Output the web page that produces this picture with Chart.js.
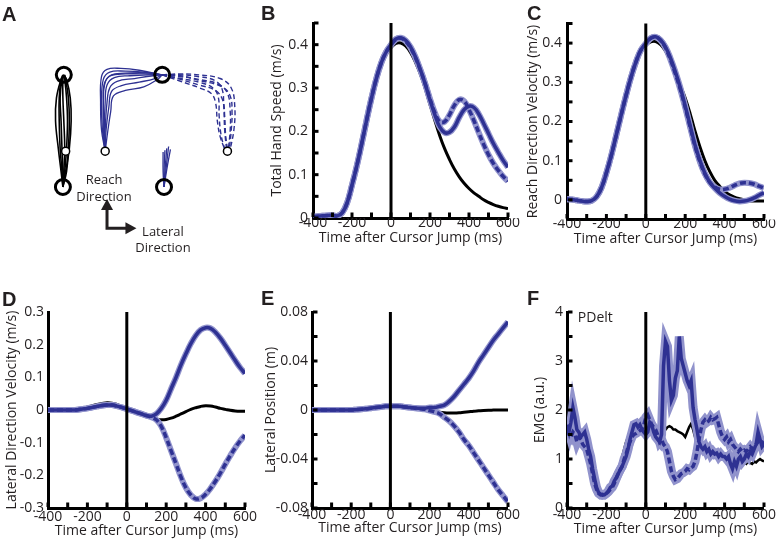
<!DOCTYPE html>
<html><head><meta charset="utf-8">
<script src="https://cdn.jsdelivr.net/npm/chart.js@4.4.1/dist/chart.umd.min.js"></script>
<style>
body{margin:0;background:#fff;width:776px;height:543px;position:relative;overflow:hidden;font-family:'Open Sans',sans-serif;color:#231f20;}
canvas{position:absolute;}
.lt{position:absolute;font-family:'Liberation Sans',Arial,sans-serif;font-weight:bold;font-size:20px;line-height:20px;color:#231f20;}
.tx{position:absolute;font-size:13px;text-align:center;color:#231f20;white-space:nowrap;}
</style></head><body>
<canvas id="cA" width="260" height="260" style="left:0;top:0"></canvas>
<canvas id="cB" width="260" height="260" style="left:260px;top:0"></canvas>
<canvas id="cC" width="260" height="260" style="left:516px;top:0"></canvas>
<canvas id="cD" width="260" height="273" style="left:0;top:270px"></canvas>
<canvas id="cE" width="260" height="273" style="left:260px;top:270px"></canvas>
<canvas id="cF" width="260" height="273" style="left:516px;top:270px"></canvas>
<div class="lt" style="left:2px;top:4px">A</div>
<div class="lt" style="left:261px;top:3px">B</div>
<div class="lt" style="left:527px;top:3px">C</div>
<div class="lt" style="left:2px;top:289px">D</div>
<div class="lt" style="left:261px;top:288px">E</div>
<div class="lt" style="left:527px;top:288px">F</div>
<div class="tx" style="left:64px;top:171px;width:80px;line-height:17px">Reach<br>Direction</div>
<div class="tx" style="left:123px;top:223px;width:80px;line-height:16px">Lateral<br>Direction</div>
<script>
// ---------- time bases ----------
const tBE = [-400,-375,-350,-325,-300,-275,-250,-225,-200,-175,-150,-125,-100,-75,-50,-25,0,25,50,75,100,125,150,175,200,225,250,275,300,325,350,375,400,425,450,475,500,525,550,575,600];
const tEMG = [-400,-390,-380,-370,-360,-350,-340,-330,-320,-310,
 -300,-290,-280,-270,-260,-250,-240,-230,-220,-210,
 -200,-190,-180,-170,-160,-150,-140,-130,-120,-110,
 -100,-90,-80,-70,-60,-50,-40,-30,-20,-10,
 0,10,20,30,40,50,60,70,80,90,
 100,110,120,130,140,150,160,170,180,190,
 200,210,220,230,240,250,260,270,280,290,
 300,310,320,330,340,350,360,370,380,390,
 400,410,420,430,440,450,460,470,480,490,
 500,510,520,530,540,550,560,570,580,590,
 600];
const xTickLabels = [-400,-200,0,200,400,600];

// ---------- B: total hand speed (m/s) ----------
const speedBlack = [0.003,0.003,0.003,0.003,0.003,0.004,0.012,0.035,
 0.075,0.12,0.17,0.225,0.275,0.32,0.355,0.378,
 0.393,0.403,0.404,0.397,0.382,0.36,0.333,0.3,
 0.262,0.225,0.19,0.16,0.135,0.113,0.095,0.08,
 0.068,0.058,0.05,0.042,0.036,0.031,0.027,0.024,
 0.022];
const speedSolid = [0.003,0.004,0.005,0.006,0.006,0.005,0.012,0.035,
 0.076,0.121,0.172,0.226,0.277,0.322,0.358,0.383,
 0.4,0.413,0.416,0.41,0.395,0.372,0.343,0.31,
 0.272,0.238,0.21,0.197,0.198,0.21,0.232,0.25,
 0.258,0.255,0.24,0.218,0.195,0.172,0.152,0.133,
 0.117];
const speedDashed = [0.003,0.004,0.005,0.006,0.006,0.005,0.012,0.035,
 0.076,0.121,0.172,0.226,0.277,0.322,0.358,0.383,
 0.399,0.412,0.415,0.408,0.393,0.37,0.342,0.31,
 0.275,0.243,0.222,0.222,0.238,0.26,0.273,0.27,
 0.25,0.225,0.197,0.17,0.146,0.126,0.11,0.096,
 0.085];

// ---------- C: reach direction velocity (m/s) ----------
const reachBlack = [0,0,-0.002,-0.004,-0.005,-0.003,0.007,0.03,
 0.068,0.113,0.163,0.215,0.265,0.31,0.348,0.377,
 0.394,0.403,0.404,0.396,0.38,0.355,0.325,0.292,
 0.26,0.22,0.175,0.135,0.1,0.072,0.05,0.035,
 0.022,0.013,0.007,0.003,0,-0.002,-0.003,-0.003,
 -0.003];
const reachSolid = [0.002,0.001,-0.001,-0.003,-0.004,-0.002,0.008,0.031,
 0.069,0.114,0.165,0.217,0.267,0.313,0.352,0.382,
 0.399,0.413,0.416,0.408,0.39,0.362,0.327,0.287,
 0.24,0.19,0.14,0.1,0.068,0.045,0.03,0.018,
 0.009,0.002,-0.002,-0.004,-0.003,0,0.005,0.012,
 0.018];
const reachDashed = [0.002,0.001,-0.001,-0.003,-0.004,-0.002,0.008,0.031,
 0.069,0.114,0.165,0.217,0.267,0.313,0.352,0.382,
 0.398,0.412,0.415,0.407,0.388,0.358,0.322,0.282,
 0.236,0.186,0.137,0.097,0.066,0.045,0.033,0.027,
 0.027,0.031,0.037,0.042,0.044,0.043,0.04,0.035,
 0.03];

// ---------- D: lateral direction velocity (m/s) ----------
const latVelBlack = [0,0,0,0,0,0.001,0.002,0.005,
 0.009,0.013,0.017,0.02,0.022,0.021,0.017,0.01,
 0.004,-0.003,-0.009,-0.015,-0.02,-0.025,-0.028,-0.03,
 -0.029,-0.025,-0.019,-0.012,-0.005,0.002,0.007,0.011,
 0.013,0.012,0.009,0.005,0.002,-0.001,-0.003,-0.004,
 -0.004];
const latVelSolid = [0,0,0,0,0,0,0.001,0.003,
 0.005,0.008,0.011,0.014,0.015,0.015,0.012,0.008,
 0.003,-0.002,-0.007,-0.012,-0.017,-0.019,-0.012,0.005,
 0.03,0.065,0.1,0.138,0.172,0.203,0.228,0.245,
 0.252,0.25,0.238,0.22,0.198,0.175,0.152,0.13,
 0.112];
const latVelDashed = [0,0,0,0,0,0,0.001,0.003,
 0.005,0.008,0.011,0.014,0.015,0.015,0.012,0.008,
 0.003,-0.002,-0.007,-0.012,-0.017,-0.022,-0.03,-0.05,
 -0.085,-0.125,-0.165,-0.205,-0.238,-0.26,-0.272,-0.27,
 -0.258,-0.24,-0.218,-0.193,-0.166,-0.14,-0.116,-0.095,
 -0.077];

// ---------- E: lateral position (m) ----------
const latPosBlack = [0,0,0,0,0,0,0,0,
 0,0.0003,0.0006,0.001,0.0015,0.002,0.0025,0.003,
 0.003,0.003,0.003,0.0025,0.002,0.0015,0.001,0.0002,
 -0.0005,-0.0012,-0.0018,-0.0022,-0.0024,-0.0024,-0.0022,-0.0018,
 -0.0014,-0.001,-0.0007,-0.0004,-0.0002,-0.0001,0,0,
 0];
const latPosSolid = [0,0,0,0,0,0,0,0,
 0,0.0003,0.0006,0.001,0.0015,0.002,0.0025,0.003,
 0.003,0.003,0.003,0.0025,0.002,0.0017,0.0015,0.0015,
 0.002,0.002,0.003,0.004,0.007,0.011,0.016,0.021,
 0.026,0.032,0.039,0.045,0.051,0.057,0.062,0.067,
 0.072];
const latPosDashed = [0,0,0,0,0,0,0,0,
 0,0.0003,0.0006,0.001,0.0015,0.002,0.0025,0.003,
 0.003,0.003,0.003,0.0025,0.002,0.0015,0.001,0.0005,
 -0.0005,-0.0015,-0.003,-0.006,-0.009,-0.013,-0.018,-0.024,
 -0.029,-0.035,-0.041,-0.047,-0.053,-0.059,-0.065,-0.07,
 -0.075];

// ---------- F: EMG PDelt (a.u.) ----------
const emgBlack = [1.6,1.55,1.6,1.55,1.5,1.45,1.4,1.35,1.3,1.25,
 1.15,1.0,0.85,0.65,0.48,0.35,0.3,0.28,0.28,0.3,
 0.33,0.37,0.42,0.47,0.55,0.62,0.7,0.9,1.05,1.2,
 1.35,1.45,1.52,1.57,1.6,1.62,1.65,1.63,1.6,1.62,
 1.65,1.68,1.7,1.68,1.65,1.63,1.6,1.58,1.6,1.62,
 1.6,1.65,1.67,1.65,1.6,1.6,1.57,1.55,1.53,1.5,
 1.45,1.55,1.65,1.72,1.6,1.45,1.38,1.35,1.3,1.25,
 1.3,1.2,1.15,1.1,1.05,1.08,1.05,1.02,1.0,1.02,
 0.98,1.0,0.97,0.95,0.93,0.9,0.92,0.9,0.88,0.9,
 0.93,0.9,0.95,0.92,0.9,0.95,0.93,0.97,1.0,0.97,
 0.95];
const emgSolid = [1.7,1.55,1.75,2.05,1.85,1.6,1.55,1.45,1.5,1.55,
 1.4,1.2,1.05,0.8,0.6,0.42,0.32,0.28,0.26,0.27,
 0.3,0.35,0.42,0.45,0.55,0.62,0.7,0.78,0.85,0.95,
 1.05,1.2,1.4,1.55,1.7,1.72,1.65,1.7,1.6,1.55,
 1.5,1.55,1.75,1.7,1.55,1.45,1.4,1.35,1.5,2.9,
 3.4,3.3,2.6,2.2,2.3,2.65,2.8,3.5,3.05,2.9,
 2.75,2.6,2.5,2.6,2.05,1.8,1.6,1.35,1.25,1.2,
 1.25,1.15,1.2,1.1,1.15,1.1,1.12,1.05,1.1,1.05,
 1.05,1.0,1.05,0.9,0.8,0.95,0.85,1.0,1.05,0.95,
 1.0,1.1,1.05,1.15,1.1,1.2,1.3,1.55,1.4,1.25,
 1.3];
const emgDashed = [1.6,1.5,1.45,1.55,1.5,1.35,1.45,1.4,1.3,1.25,
 1.2,1.05,0.9,0.7,0.5,0.38,0.3,0.27,0.28,0.27,
 0.3,0.33,0.38,0.42,0.5,0.6,0.7,0.78,0.85,1.0,
 1.1,1.25,1.35,1.45,1.5,1.52,1.55,1.58,1.6,1.7,
 1.85,1.9,1.8,1.7,1.65,1.6,1.5,1.35,1.4,1.3,
 1.25,1.15,0.95,0.75,0.65,0.58,0.6,0.65,0.7,0.72,
 0.75,0.8,0.78,0.82,0.85,0.95,1.15,1.4,1.6,1.75,
 1.8,1.75,1.78,1.85,1.8,1.82,1.85,1.7,1.55,1.45,
 1.4,1.45,1.35,1.4,1.3,1.25,1.2,1.15,1.2,1.15,
 1.18,1.15,1.2,1.25,1.2,1.25,1.3,1.35,1.4,1.35,
 1.3];

// ---------- A: hand paths (workspace units) ----------
const pathsBaseline = [
 [[5.7,6.8],[5.5,8.5],[5.2,11.0],[4.9,14.0],[5.0,16.5],[5.5,18.5],[5.8,19.0]],
 [[5.7,6.8],[5.7,8.5],[5.6,11.0],[5.5,14.0],[5.4,16.5],[5.6,18.5],[5.8,19.0]],
 [[5.7,6.8],[5.9,8.5],[6.1,11.0],[6.2,14.0],[6.1,16.5],[5.9,18.5],[5.8,19.0]],
 [[5.7,6.8],[6.0,8.5],[6.4,11.0],[6.6,14.0],[6.5,16.5],[6.1,18.5],[5.8,19.0]],
 [[5.7,6.8],[5.6,8.5],[5.4,11.0],[5.3,14.0],[5.3,16.5],[5.5,18.5],[5.7,19.0]],
 [[5.7,6.8],[5.8,8.5],[5.9,11.0],[5.8,14.0],[5.7,16.5],[5.7,18.5],[5.8,19.0]],
 [[5.7,6.8],[6.1,8.5],[6.3,11.0],[6.4,14.0],[6.3,16.5],[6.0,18.5],[5.9,19.0]]
];
const pathsJumpSolid = [
 [[10.3,10.7],[9.9,13],[9.8,16],[9.9,18.8],[10.5,19.6],[12,19.7],[14,19.5],[16.5,19.0]],
 [[10.3,10.7],[10.0,13],[9.9,16],[10.1,18.5],[10.8,19.3],[12.5,19.4],[14.5,19.3],[16.5,19.0]],
 [[10.3,10.7],[10.1,13],[10.1,16],[10.3,18.2],[11,19.0],[13,19.2],[15,19.2],[16.5,19.0]],
 [[10.3,10.7],[10.2,13],[10.3,16],[10.5,17.9],[11.3,18.7],[13,18.9],[15,19.0],[16.5,19.0]],
 [[10.3,10.7],[10.3,13],[10.5,16],[10.8,17.6],[11.6,18.3],[13.5,18.6],[15.5,18.9],[16.5,19.0]],
 [[10.3,10.7],[10.4,13],[10.7,15.5],[11.0,17.2],[12,17.8],[14,18.2],[15.7,18.6],[16.5,19.0]],
 [[10.3,10.7],[10.6,13],[10.9,15],[11.2,16.7],[12.5,17.3],[14.5,17.7],[16,18.5],[16.5,19.0]],
 [[10.3,10.7],[10.2,13],[10.1,16],[10.2,18],[10.9,18.9],[12.5,19.1],[14.5,19.1],[16.5,19.0]]
];
const pathsJumpDashed = [
 [[16.5,19.0],[18.5,19.0],[20.5,18.8],[22.2,18.4],[23.0,17.5],[23.2,15.5],[23.3,13],[23.5,10.9]],
 [[16.5,19.0],[18.5,18.8],[20.5,18.5],[22.6,18.0],[23.6,17.0],[23.9,15],[23.9,13],[23.7,10.9]],
 [[16.5,19.0],[18.5,18.6],[20.5,18.2],[22.0,17.6],[22.6,16.6],[22.7,14.5],[22.9,12.5],[23.3,10.9]],
 [[16.5,19.0],[18.5,18.5],[20.5,17.9],[22.3,17.3],[23.1,16.2],[23.3,14.5],[23.4,12.5],[23.6,10.9]],
 [[16.5,19.0],[18.5,19.1],[20.5,19.0],[22.8,18.6],[24.0,17.6],[24.4,15.5],[24.3,13],[23.9,10.9]],
 [[16.5,19.0],[18.5,18.3],[20.5,17.6],[21.8,17.0],[22.3,16.0],[22.5,14],[22.8,12.3],[23.3,10.9]],
 [[16.5,19.0],[18.5,18.9],[20.5,18.4],[23.0,17.7],[23.9,16.7],[24.1,14.8],[24.0,12.8],[23.8,10.9]]
];
const pathsShort = [
 [[16.7,6.8],[16.7,8.5],[16.8,10.8]],
 [[16.7,6.8],[16.8,8.5],[17.0,11.0]],
 [[16.7,6.8],[16.9,8.6],[17.2,11.2]],
 [[16.7,6.8],[16.6,8.5],[16.6,10.6]],
 [[16.7,6.8],[17.0,8.7],[17.4,10.9]]
];
const targetsBig = [[5.7,6.8],[5.8,19.0],[16.5,19.0],[16.7,6.8]];
const targetsSmall = [[6.0,10.7],[10.3,10.7],[23.6,10.7]];
const axisArrows = {origin:[10.5,2.3], up:[10.5,5.5], right:[13.7,2.3]};

// ---------- styling ----------
const DARK = '#2e3192';
const LIGHT = '#9193cc';
const INK = '#231f20';
Chart.defaults.font.family = "'Open Sans', sans-serif";
Chart.defaults.color = INK;

const pts = (t, v) => t.map((x, i) => ({x, y: v[i]}));

const zeroLine = {
  id: 'zeroLine',
  afterDatasetsDraw(chart) {
    const {ctx, chartArea: a, scales: {x}} = chart;
    const px = x.getPixelForValue(0);
    ctx.save(); ctx.strokeStyle = '#000'; ctx.lineWidth = 3;
    ctx.beginPath(); ctx.moveTo(px, a.top); ctx.lineTo(px, a.bottom); ctx.stroke();
    ctx.restore();
  }
};
const minorTicks = {
  id: 'minorTicks',
  afterDatasetsDraw(chart, args, opts) {
    const {ctx, chartArea: a, scales: {x, y}} = chart;
    ctx.save(); ctx.fillStyle = '#000';
    if (opts.x) {
      const n = Math.round((x.max - x.min) / opts.x);
      for (let i = 0; i <= n; i++) { const px = x.getPixelForValue(x.min + i * opts.x); ctx.fillRect(px - 1.5, a.bottom - 5.5, 3, 4.5); }
    }
    if (opts.y) {
      const n = Math.round((y.max - y.min) / opts.y);
      for (let i = 0; i <= n; i++) { const py = y.getPixelForValue(y.min + i * opts.y); ctx.fillRect(a.left + 1, py - 1.5, 4.5, 3); }
    }
    if (opts.note) {
      ctx.fillStyle = INK; ctx.font = "14px 'Open Sans', sans-serif";
      ctx.textAlign = 'left'; ctx.textBaseline = 'middle';
      ctx.fillText(opts.note.text, x.getPixelForValue(opts.note.x), y.getPixelForValue(opts.note.y));
    }
    ctx.restore();
  }
};

function seriesSets(t, black, solid, dashed, w) {
  return [
    {data: pts(t, solid), borderColor: DARK, borderWidth: w.dark, order: 1},
    {data: pts(t, dashed), borderColor: DARK, borderWidth: w.dark, borderDash: [6, 3], order: 2},
    {data: pts(t, solid), borderColor: LIGHT, borderWidth: w.band, order: 3},
    {data: pts(t, dashed), borderColor: LIGHT, borderWidth: w.band, order: 4},
    {data: pts(t, black), borderColor: '#000', borderWidth: w.black, order: 5}
  ];
}

function panel(id, p) {
  const cv = document.getElementById(id);
  const L = parseFloat(cv.style.left) || 0, T = parseFloat(cv.style.top) || 0;
  const W = cv.width, H = cv.height;
  const tlh = 14 * 1.2;
  const xH = p.xTitleY + tlh / 2 - p.area.b;
  return new Chart(cv, {
    type: 'line',
    data: {datasets: seriesSets(p.t, p.black, p.solid, p.dashed, p.w)},
    options: {
      responsive: false, animation: false,
      layout: {padding: {left: 0, top: p.area.t - T, right: L + W - p.area.r, bottom: T + H - (p.area.b + xH)}},
      elements: {point: {radius: 0}, line: {tension: p.tension, borderCapStyle: 'butt'}},
      plugins: {legend: {display: false}, tooltip: {enabled: false}, minorTicks: p.minor},
      scales: {
        x: {type: 'linear', min: -400, max: 600,
            afterFit: s => { s.height = xH; },
            afterBuildTicks: s => { s.ticks = xTickLabels.map(v => ({value: v})); },
            grid: {display: false, drawTicks: false},
            border: {display: true, color: '#000', width: 3},
            ticks: {padding: p.xPad, font: {size: 14, lineHeight: 1}, color: INK, maxRotation: 0, autoSkip: false},
            title: {display: true, text: 'Time after Cursor Jump (ms)', font: {size: 14}, color: INK, padding: 0}},
        y: {type: 'linear', min: p.ymin, max: p.ymax,
            afterFit: s => { s.width = p.area.l - L; },
            afterBuildTicks: s => { s.ticks = p.yTicks.map(v => ({value: v})); },
            grid: {display: false, drawTicks: false},
            border: {display: true, color: '#000', width: 3},
            ticks: {padding: p.yPad, font: {size: 14, lineHeight: 1}, color: INK, autoSkip: false,
                    callback: v => String(Number(v.toFixed(3)))},
            title: {display: true, text: p.yTitle, font: {size: 14}, color: INK,
                    padding: {top: p.yTitleX - L - tlh / 2, bottom: 0}}}
      }
    },
    plugins: [zeroLine, minorTicks]
  });
}

const wSmooth = {dark: 3.5, band: 6, black: 3};
const wEMG = {dark: 3.5, band: 9, black: 2.5};

panel('cB', {t: tBE, black: speedBlack, solid: speedSolid, dashed: speedDashed, w: wSmooth, tension: 0.4,
  area: {l: 313, r: 508, t: 23, b: 218}, xTitleY: 238, yTitleX: 277, xPad: -2, yPad: 5,
  ymin: 0, ymax: 0.45, yTicks: [0, 0.1, 0.2, 0.3, 0.4], yTitle: 'Total Hand Speed (m/s)',
  minor: {x: 100, y: 0.05}});
panel('cC', {t: tBE, black: reachBlack, solid: reachSolid, dashed: reachDashed, w: wSmooth, tension: 0.4,
  area: {l: 567, r: 764, t: 23.5, b: 219.5}, xTitleY: 239, yTitleX: 533, xPad: -2.5, yPad: 5,
  ymin: -0.05, ymax: 0.45, yTicks: [0, 0.1, 0.2, 0.3, 0.4], yTitle: 'Reach Direction Velocity (m/s)',
  minor: {x: 100, y: 0.05}});
panel('cD', {t: tBE, black: latVelBlack, solid: latVelSolid, dashed: latVelDashed, w: wSmooth, tension: 0.4,
  area: {l: 48, r: 245, t: 312, b: 508}, xTitleY: 531, yTitleX: 12, xPad: 2.5, yPad: 4,
  ymin: -0.3, ymax: 0.3, yTicks: [-0.3, -0.2, -0.1, 0, 0.1, 0.2, 0.3], yTitle: 'Lateral Direction Velocity (m/s)',
  minor: {x: 100}});
panel('cE', {t: tBE, black: latPosBlack, solid: latPosSolid, dashed: latPosDashed, w: wSmooth, tension: 0.4,
  area: {l: 312, r: 508, t: 312, b: 508}, xTitleY: 528, yTitleX: 271, xPad: 0, yPad: 4,
  ymin: -0.08, ymax: 0.08, yTicks: [-0.08, -0.04, 0, 0.04, 0.08], yTitle: 'Lateral Position (m)',
  minor: {x: 100, y: 0.02}});
panel('cF', {t: tEMG, black: emgBlack, solid: emgSolid, dashed: emgDashed, w: wEMG, tension: 0,
  area: {l: 567, r: 764, t: 312, b: 508}, xTitleY: 529, yTitleX: 540, xPad: 0, yPad: 4,
  ymin: 0, ymax: 4, yTicks: [0, 1, 2, 3, 4], yTitle: 'EMG (a.u.)',
  minor: {x: 100, y: 0.5, note: {text: 'PDelt', x: -345, y: 3.88}}});

// ---------- panel A ----------
const xy = p => p.map(([x, y]) => ({x, y}));
const dsA = [];
pathsBaseline.forEach(p => dsA.push({data: xy(p), borderColor: '#000', borderWidth: 1.6, order: 5}));
pathsJumpSolid.forEach(p => dsA.push({data: xy(p), borderColor: DARK, borderWidth: 1.3, order: 4}));
pathsJumpDashed.forEach(p => dsA.push({data: xy(p), borderColor: DARK, borderWidth: 1.4, borderDash: [5, 3], order: 4}));
pathsShort.forEach(p => dsA.push({data: xy(p), borderColor: DARK, borderWidth: 1.3, order: 4}));
dsA.push({data: xy(targetsBig), showLine: false, pointRadius: 7.5, pointBorderWidth: 3, pointBorderColor: '#000', pointBackgroundColor: 'rgba(0,0,0,0)', order: 1});
dsA.push({data: xy(targetsSmall), showLine: false, pointRadius: 4, pointBorderWidth: 1.5, pointBorderColor: '#000', pointBackgroundColor: '#fff', order: 0});

const arrowsPlugin = {
  id: 'arrows',
  afterDatasetsDraw(chart) {
    const {ctx, scales: {x, y}} = chart;
    const o = [x.getPixelForValue(axisArrows.origin[0]), y.getPixelForValue(axisArrows.origin[1])];
    const u = [x.getPixelForValue(axisArrows.up[0]), y.getPixelForValue(axisArrows.up[1])];
    const r = [x.getPixelForValue(axisArrows.right[0]), y.getPixelForValue(axisArrows.right[1])];
    ctx.save(); ctx.strokeStyle = INK; ctx.fillStyle = INK; ctx.lineWidth = 3;
    ctx.beginPath(); ctx.moveTo(u[0], u[1] + 8); ctx.lineTo(o[0], o[1]); ctx.lineTo(r[0] - 8, r[1]); ctx.stroke();
    ctx.beginPath(); ctx.moveTo(u[0], u[1]); ctx.lineTo(u[0] - 6, u[1] + 11); ctx.lineTo(u[0] + 6, u[1] + 11); ctx.closePath(); ctx.fill();
    ctx.beginPath(); ctx.moveTo(r[0], r[1]); ctx.lineTo(r[0] - 11, r[1] - 6); ctx.lineTo(r[0] - 11, r[1] + 6); ctx.closePath(); ctx.fill();
    ctx.restore();
  }
};
new Chart(document.getElementById('cA'), {
  type: 'scatter',
  data: {datasets: dsA},
  options: {
    responsive: false, animation: false,
    layout: {padding: 0},
    showLine: true,
    elements: {point: {radius: 0}, line: {tension: 0.4, fill: false}},
    plugins: {legend: {display: false}, tooltip: {enabled: false}},
    scales: {x: {type: 'linear', min: 0, max: 26, display: false}, y: {type: 'linear', min: 0, max: 26, display: false}}
  },
  plugins: [arrowsPlugin]
});
</script>
</body></html>
